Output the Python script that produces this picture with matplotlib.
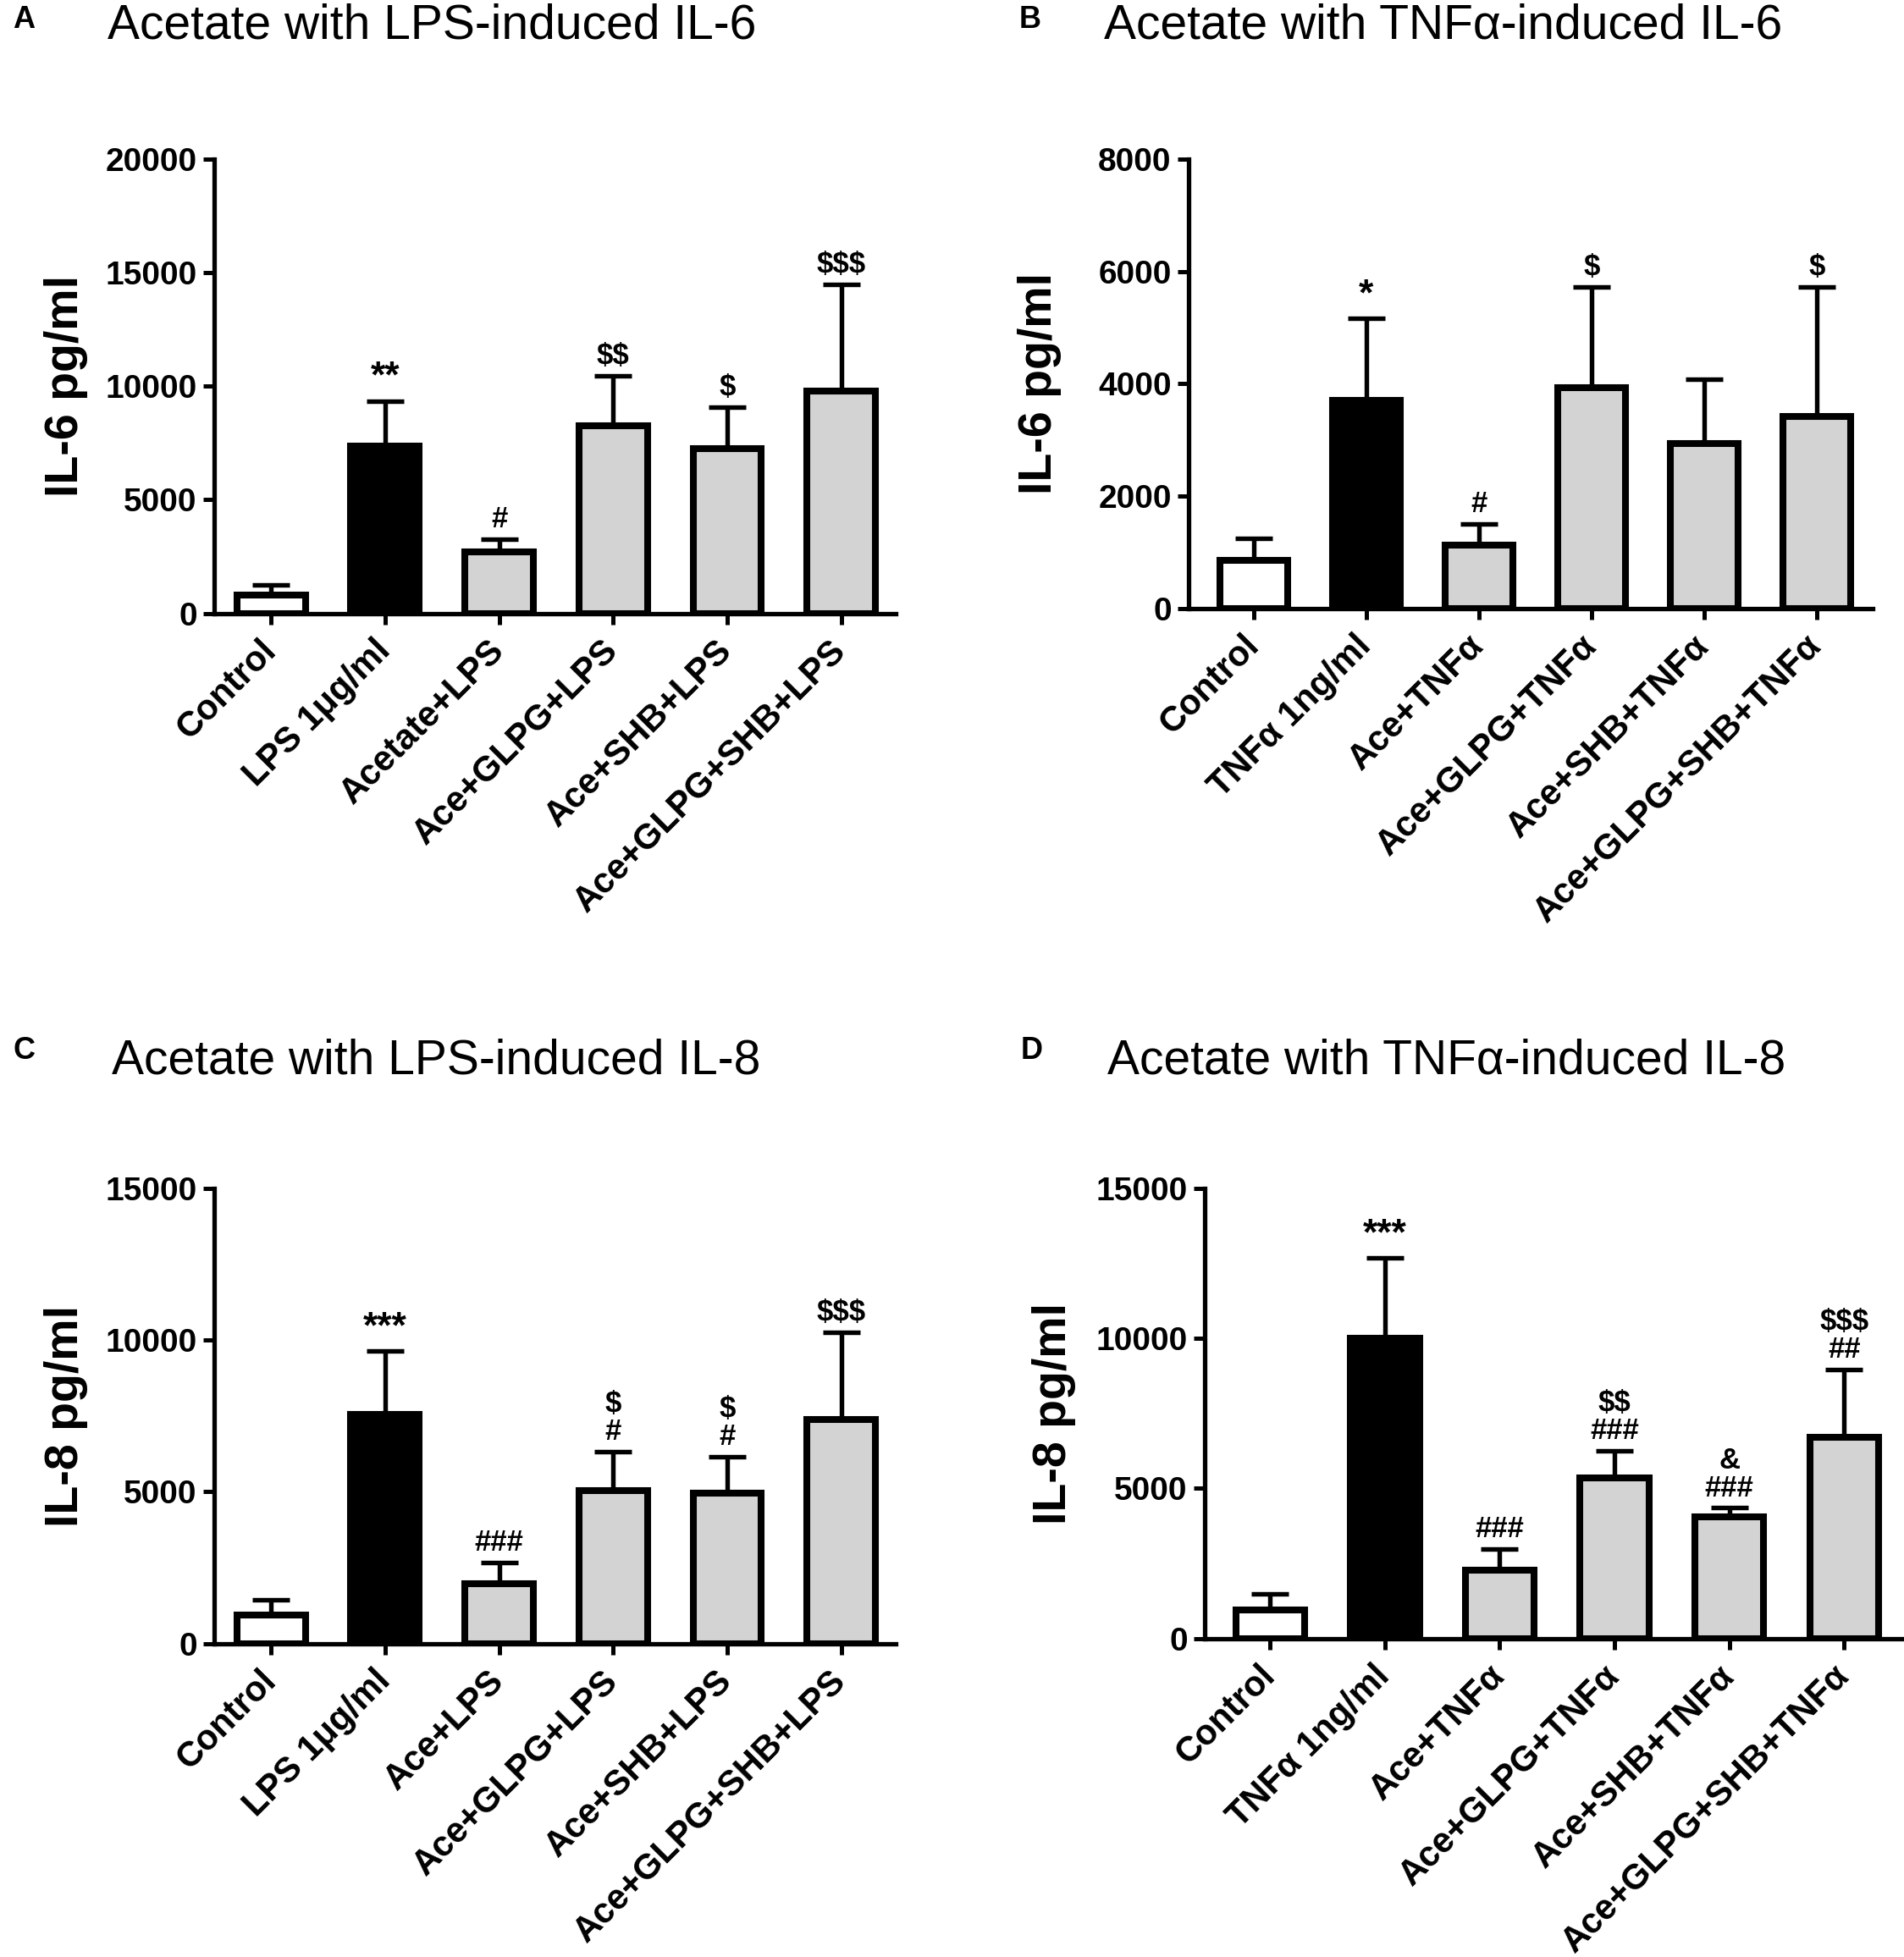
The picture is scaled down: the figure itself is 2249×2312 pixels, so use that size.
import numpy as np
import matplotlib
matplotlib.use("Agg")
import matplotlib.pyplot as plt

plt.rcParams['font.family'] = ['Liberation Sans', 'DejaVu Sans']

# panel A: LPS-induced IL-6
cats_a = ['Control', 'LPS 1μg/ml', 'Acetate+LPS', 'Ace+GLPG+LPS', 'Ace+SHB+LPS', 'Ace+GLPG+SHB+LPS']
mean_a = [800, 7350, 2700, 8250, 7250, 9800]
err_a = [450, 2000, 550, 2200, 1850, 4700]
sig_a = ['', '**', '#', '$$', '$', '$$$']

# panel B: TNFa-induced IL-6
cats_b = ['Control', 'TNFα 1ng/ml', 'Ace+TNFα', 'Ace+GLPG+TNFα', 'Ace+SHB+TNFα', 'Ace+GLPG+SHB+TNFα']
mean_b = [850, 3700, 1130, 3930, 2930, 3420]
err_b = [400, 1470, 370, 1800, 1150, 2300]
sig_b = ['', '*', '#', '$', '', '$']

# panel C: LPS-induced IL-8
cats_c = ['Control', 'LPS 1μg/ml', 'Ace+LPS', 'Ace+GLPG+LPS', 'Ace+SHB+LPS', 'Ace+GLPG+SHB+LPS']
mean_c = [940, 7540, 1970, 5040, 4960, 7380]
err_c = [490, 2090, 690, 1270, 1190, 2870]
sig_c = ['', '***', '###', '$\n#', '$\n#', '$$$']

# panel D: TNFa-induced IL-8
cats_d = ['Control', 'TNFα 1ng/ml', 'Ace+TNFα', 'Ace+GLPG+TNFα', 'Ace+SHB+TNFα', 'Ace+GLPG+SHB+TNFα']
mean_d = [950, 9990, 2280, 5350, 4060, 6710]
err_d = [540, 2690, 700, 910, 290, 2240]
sig_d = ['', '***', '###', '$$\n###', '&\n###', '$$$\n##']

colors = ['white', 'black', '#d3d3d3', '#d3d3d3', '#d3d3d3', '#d3d3d3']

fig = plt.figure(figsize=(22.49, 23.12), dpi=100)


def draw(rect, cats, means, errs, sigs, ymax, step, ylabel, xlo, xhi):
    ax = fig.add_axes(rect)
    x = np.arange(len(cats))
    ax.errorbar(x, means, yerr=[np.zeros(len(errs)), errs], fmt='none', ecolor='black',
                elinewidth=3.9, capsize=15.5, capthick=3.9, zorder=1)
    ax.bar(x, means, width=0.6, color=colors, edgecolor='black', linewidth=5.8, zorder=2)
    for xi, m, e, s in zip(x, means, errs, sigs):
        if s:
            fs = 32 if '*' in s else 25
            ax.annotate(s, (xi, m + e), xytext=(0, 5), textcoords='offset points',
                        ha='center', va='bottom', fontsize=fs, fontweight='bold',
                        linespacing=1.0, parse_math=False)
    ax.set_xlim(xlo, xhi)
    ax.set_ylim(0, ymax)
    ax.set_yticks(np.arange(0, ymax + 1, step))
    ax.set_xticks(x)
    ax.set_xticklabels(cats, rotation=45, ha='right', va='center', rotation_mode='anchor',
                       fontsize=30, fontweight='bold')
    for lab in ax.get_yticklabels():
        lab.set_fontsize(28)
        lab.set_fontweight('bold')
    ax.tick_params(axis='both', length=9.5, width=3.6, pad=5)
    ax.tick_params(axis='x', pad=18)
    for sp in ['top', 'right']:
        ax.spines[sp].set_visible(False)
    for sp in ['left', 'bottom']:
        ax.spines[sp].set_linewidth(3.8)
    ax.set_ylabel(ylabel, fontsize=40, fontweight='bold')
    ax.yaxis.set_label_coords(-0.185, 0.5)
    return ax


draw([0.1124, 0.6866, 0.3582, 0.2320], cats_a, mean_a, err_a, sig_a, 20000, 5000, 'IL-6 pg/ml', -0.5, 5.48)
draw([0.6242, 0.6891, 0.3595, 0.2295], cats_b, mean_b, err_b, sig_b, 8000, 2000, 'IL-6 pg/ml', -0.58, 5.5)
draw([0.1124, 0.1602, 0.3582, 0.2327], cats_c, mean_c, err_c, sig_c, 15000, 5000, 'IL-8 pg/ml', -0.5, 5.48)
draw([0.6327, 0.1627, 0.3660, 0.2302], cats_d, mean_d, err_d, sig_d, 15000, 5000, 'IL-8 pg/ml', -0.57, 5.5)

fig.text(0.0067, 0.9898, 'A', fontsize=26, fontweight='bold', va='center')
fig.text(0.0564, 0.9868, 'Acetate with LPS-induced IL-6', fontsize=41, va='center')
fig.text(0.535, 0.9898, 'B', fontsize=26, fontweight='bold', va='center')
fig.text(0.580, 0.9868, 'Acetate with TNFα-induced IL-6', fontsize=41, va='center')
fig.text(0.0067, 0.4632, 'C', fontsize=26, fontweight='bold', va='center')
fig.text(0.0588, 0.4577, 'Acetate with LPS-induced IL-8', fontsize=41, va='center')
fig.text(0.536, 0.4632, 'D', fontsize=26, fontweight='bold', va='center')
fig.text(0.5817, 0.4577, 'Acetate with TNFα-induced IL-8', fontsize=41, va='center')

fig.savefig('out.png', dpi=100)
